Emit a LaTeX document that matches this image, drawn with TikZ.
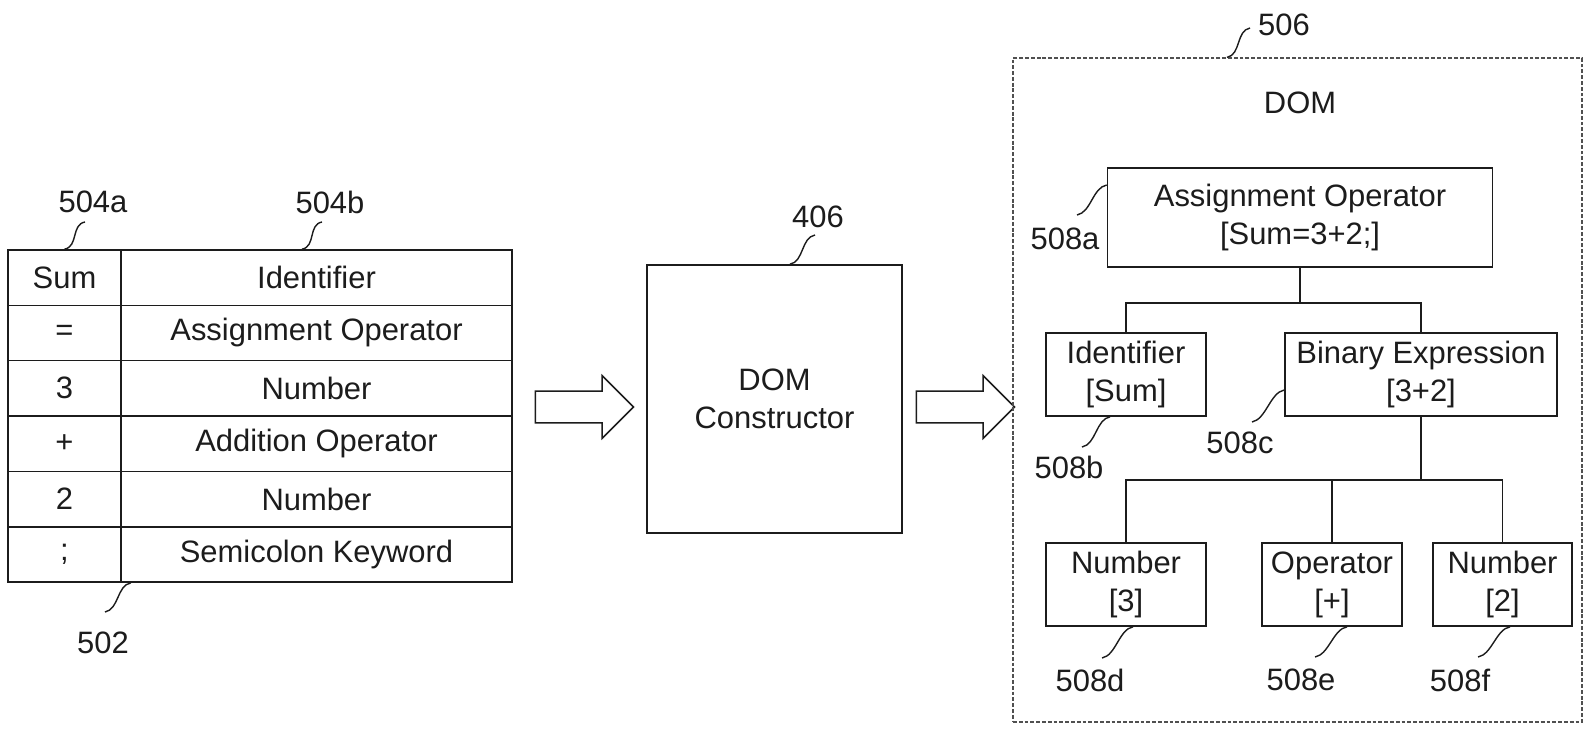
\documentclass[tikz,border=0pt]{standalone}
\usepackage{fontspec}
\setmainfont{Liberation Sans}
\usetikzlibrary{shapes.arrows}
\definecolor{ink}{HTML}{1C1C1C}
\definecolor{frame}{HTML}{505050}

\tikzset{
  cell/.style={draw=ink,line width=0.9pt,minimum height=1.107cm,inner sep=0pt},
  keycell/.style={cell,minimum width=2.26cm},
  typecell/.style={cell,minimum width=7.82cm},
  treebox/.style={draw=ink,line width=0.9pt,align=center,inner sep=0pt,minimum height=1.66cm},
  refnum/.style={inner sep=0pt},
  lead/.style={draw=ink,line width=0.8pt},
  branch/.style={draw=ink,line width=0.9pt},
  fatarrow/.style={single arrow,draw=ink,line width=0.9pt,fill=white,
    inner xsep=0pt,inner ysep=0.3cm,minimum height=1.96cm,
    single arrow head extend=0.31cm,single arrow head indent=0pt}
}

\begin{document}
\begin{tikzpicture}[x=1cm,y=1cm,font=\fontsize{17.6}{21.6}\selectfont,text=ink]
  \path[fill=white] (0,0) rectangle (31.7,14.6);
  \useasboundingbox (0,0) rectangle (31.7,14.6);

  % token table
  \node[keycell]  (k1) at (1.29,9.047) {Sum};
  \node[typecell] (t1) at (6.33,9.047) {Identifier};
  \node[keycell]  (k2) at (1.29,7.940) {=};
  \node[typecell] (t2) at (6.33,7.940) {Assignment Operator};
  \node[keycell]  (k3) at (1.29,6.833) {3};
  \node[typecell] (t3) at (6.33,6.833) {Number};
  \node[keycell]  (k4) at (1.29,5.726) {+};
  \node[typecell] (t4) at (6.33,5.726) {Addition Operator};
  \node[keycell]  (k5) at (1.29,4.619) {2};
  \node[typecell] (t5) at (6.33,4.619) {Number};
  \node[keycell]  (k6) at (1.29,3.512) {;};
  \node[typecell] (t6) at (6.33,3.512) {Semicolon Keyword};

  \node[refnum] (l504a) at (1.86,10.56) {504a};
  \node[refnum] (l504b) at (6.60,10.56) {504b};
  \node[refnum] (l502)  at (2.06,1.74) {502};
  \coordinate (e504a) at (1.70,10.16);
  \coordinate (e504b) at (6.44,10.16);
  \coordinate (e502)  at (2.10,2.36);
  \draw[lead] (k1.north) .. controls +(0.28,0.05) and +(-0.28,-0.05) .. (e504a);
  \draw[lead] ([xshift=-0.29cm]t1.north) .. controls +(0.28,0.05) and +(-0.28,-0.05) .. (e504b);
  \draw[lead] ([xshift=0.18cm]k6.south east) .. controls +(-0.28,-0.05) and +(0.28,0.05) .. (e502);

  % constructor
  \node[draw=ink,line width=0.9pt,align=center,minimum width=5.1cm,minimum height=5.36cm]
    (ctor) at (15.49,6.62) {DOM\\Constructor};
  \node[refnum] (l406) at (16.36,10.26) {406};
  \coordinate (e406) at (16.30,9.90);
  \draw[lead] ([xshift=0.31cm]ctor.north) .. controls +(0.28,0.05) and +(-0.28,-0.05) .. (e406);

  \node[fatarrow] (arrA) at (11.53,6.46) {};
  \node[fatarrow] (arrB) at (19.15,6.46) {};

  % DOM tree
  \node[draw=frame,line width=0.7pt,dash pattern=on 2.2pt off 1.1pt,
        minimum width=11.38cm,minimum height=13.28cm] (dom) at (25.95,6.80) {};
  \node (domtitle) at (26.00,12.54) {DOM};
  \node[refnum] (l506) at (25.68,14.10) {506};
  \coordinate (e506) at (25.00,14.04);
  \draw[lead] ([xshift=-1.41cm]dom.north) .. controls +(0.28,0.05) and +(-0.28,-0.05) .. (e506);

  \node[treebox,minimum width=7.7cm,minimum height=1.98cm] (assign) at (26.00,10.25)
    {Assignment Operator\\{[}Sum=3+2;{]}};
  \node[treebox,minimum width=3.2cm]  (ident)  at (22.52,7.11) {Identifier\\{[}Sum{]}};
  \node[treebox,minimum width=5.44cm] (binexp) at (28.42,7.11) {Binary Expression\\{[}3+2{]}};
  \node[treebox,minimum width=3.2cm]  (num3)   at (22.52,2.91) {Number\\{[}3{]}};
  \node[treebox,minimum width=2.8cm]  (oper)   at (26.64,2.91) {Operator\\{[}+{]}};
  \node[treebox,minimum width=2.78cm] (num2)   at (30.05,2.91) {Number\\{[}2{]}};

  \draw[branch] (assign.south) -- ++(0,-0.70) -| (ident.north);
  \draw[branch] (assign.south) -- ++(0,-0.70) -| (binexp.north);
  \draw[branch] (binexp.south) -- ++(0,-1.26) -| (num3.north);
  \draw[branch] (binexp.south) -- ++(0,-1.26) -| (oper.north);
  \draw[branch] (binexp.south) -- ++(0,-1.26) -| (num2.north);

  \node[refnum] (l508a) at (21.30,9.82) {508a};
  \node[refnum] (l508b) at (21.38,5.26) {508b};
  \node[refnum] (l508c) at (24.80,5.74) {508c};
  \node[refnum] (l508d) at (21.80,1.00) {508d};
  \node[refnum] (l508e) at (26.02,1.00) {508e};
  \node[refnum] (l508f) at (29.20,1.00) {508f};
  \coordinate (e508a) at (21.54,10.30);
  \coordinate (e508b) at (21.64,5.66);
  \coordinate (e508c) at (25.04,6.16);
  \coordinate (e508d) at (22.04,1.44);
  \coordinate (e508e) at (26.30,1.46);
  \coordinate (e508f) at (29.56,1.46);
  \draw[lead] ([yshift=0.65cm]assign.west) .. controls +(-0.28,-0.05) and +(0.28,0.05) .. (e508a);
  \draw[lead] ([xshift=-0.32cm]ident.south) .. controls +(-0.28,-0.05) and +(0.28,0.05) .. (e508b);
  \draw[lead] ([yshift=-0.31cm]binexp.west) .. controls +(-0.28,-0.05) and +(0.28,0.05) .. (e508c);
  \draw[lead] ([xshift=0.14cm]num3.south) .. controls +(-0.28,-0.05) and +(0.28,0.05) .. (e508d);
  \draw[lead] ([xshift=0.30cm]oper.south) .. controls +(-0.28,-0.05) and +(0.28,0.05) .. (e508e);
  \draw[lead] ([xshift=0.15cm]num2.south) .. controls +(-0.28,-0.05) and +(0.28,0.05) .. (e508f);
\end{tikzpicture}
\end{document}
